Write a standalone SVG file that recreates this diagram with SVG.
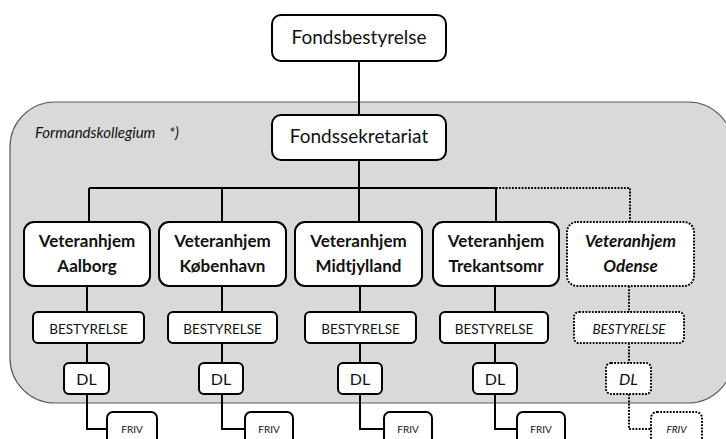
<svg xmlns="http://www.w3.org/2000/svg" width="726" height="439" viewBox="0 0 726 439">
<style>
text{font-family:Lato,"Liberation Sans",sans-serif;fill:#111;text-anchor:middle}
.box{fill:#fff;stroke:#000;stroke-width:2}
.dot{fill:#fff;stroke:#000;stroke-width:2;stroke-dasharray:1.8 1.4}
.ln{fill:none;stroke:#000;stroke-width:2}
.dl{fill:none;stroke:#000;stroke-width:2;stroke-dasharray:1.8 1.4}
.t1{font-size:19px}
.t2{font-size:17px;font-weight:bold}
.t3{font-size:13.5px}
.t4{font-size:16px}
.t5{font-size:10px}
.it{font-style:italic}
</style>
<rect id="formandskollegium" x="10" y="102" width="723" height="301" rx="45" fill="#d9d9d9" stroke="#5a5a5a" stroke-width="1.2"/>
<text x="35" y="138" class="it" style="font-size:15px;text-anchor:start">Formandskollegium<tspan x="169">*)</tspan></text>
<g id="connectors">
<path class="ln" d="M359 61V115M359 160V188M89 188H496M89 188V222M222 188V222M359 188V222M496 188V222"/>
<path class="dl" d="M496 188H630V222"/>
<path class="ln" d="M87 286V312M87 343V363M87 394V429H107"/>
<path class="ln" d="M222 286V312M222 343V363M222 394V429H245"/>
<path class="ln" d="M360 286V312M360 343V363M360 394V429H384"/>
<path class="ln" d="M495 286V312M495 343V363M495 394V429H517"/>
<path class="dl" d="M629 286V312M629 343V363M629 394V429H651"/>
</g>
<g id="fondsbestyrelse"><rect class="box" x="272" y="15" width="174" height="46" rx="9"/><text class="t1" x="359" y="44">Fondsbestyrelse</text></g>
<g id="fondssekretariat"><rect class="box" x="272" y="115" width="174" height="45" rx="9"/><text class="t1" x="359" y="143">Fondssekretariat</text></g>
<g id="vh-aalborg"><rect class="box" x="24" y="222" width="126" height="64" rx="10"/><text class="t2" x="87" y="247">Veteranhjem</text><text class="t2" x="87" y="272">Aalborg</text></g>
<g id="vh-kobenhavn"><rect class="box" x="159" y="222" width="127" height="64" rx="10"/><text class="t2" x="222.5" y="247">Veteranhjem</text><text class="t2" x="222.5" y="272">København</text></g>
<g id="vh-midtjylland"><rect class="box" x="295" y="222" width="127" height="64" rx="10"/><text class="t2" x="358.5" y="247">Veteranhjem</text><text class="t2" x="358.5" y="272">Midtjylland</text></g>
<g id="vh-trekantsomr"><rect class="box" x="433" y="222" width="126" height="64" rx="10"/><text class="t2" x="496" y="247">Veteranhjem</text><text class="t2" x="496" y="272">Trekantsomr</text></g>
<g id="vh-odense"><rect class="dot" x="567" y="222" width="127" height="64" rx="10"/><text class="t2 it" x="630.5" y="247">Veteranhjem</text><text class="t2 it" x="630.5" y="272">Odense</text></g>
<g id="best-1"><rect class="box" x="33" y="312" width="111" height="31" rx="5"/><text class="t3" x="88.5" y="334">BESTYRELSE</text></g>
<g id="best-2"><rect class="box" x="168" y="312" width="109" height="31" rx="5"/><text class="t3" x="222.5" y="334">BESTYRELSE</text></g>
<g id="best-3"><rect class="box" x="305" y="312" width="111" height="31" rx="5"/><text class="t3" x="360.5" y="334">BESTYRELSE</text></g>
<g id="best-4"><rect class="box" x="440" y="312" width="108" height="31" rx="5"/><text class="t3" x="494" y="334">BESTYRELSE</text></g>
<g id="best-5"><rect class="dot" x="574" y="312" width="110" height="31" rx="5"/><text class="t3 it" x="629" y="334">BESTYRELSE</text></g>
<g id="dl-1"><rect class="box" x="64" y="363" width="45" height="31" rx="5"/><text class="t4" x="86.5" y="385">DL</text></g>
<g id="dl-2"><rect class="box" x="199" y="363" width="44" height="31" rx="5"/><text class="t4" x="221" y="385">DL</text></g>
<g id="dl-3"><rect class="box" x="338" y="363" width="44" height="31" rx="5"/><text class="t4" x="360" y="385">DL</text></g>
<g id="dl-4"><rect class="box" x="473" y="363" width="44" height="31" rx="5"/><text class="t4" x="495" y="385">DL</text></g>
<g id="dl-5"><rect class="dot" x="606" y="363" width="45" height="31" rx="5"/><text class="t4 it" x="628.5" y="385">DL</text></g>
<g id="friv-1"><rect class="box" x="107" y="412" width="50" height="40" rx="6"/><text class="t5" x="132" y="433">FRIV</text></g>
<g id="friv-2"><rect class="box" x="245" y="412" width="48" height="40" rx="6"/><text class="t5" x="269" y="433">FRIV</text></g>
<g id="friv-3"><rect class="box" x="384" y="412" width="48" height="40" rx="6"/><text class="t5" x="408" y="433">FRIV</text></g>
<g id="friv-4"><rect class="box" x="517" y="412" width="48" height="40" rx="6"/><text class="t5" x="541" y="433">FRIV</text></g>
<g id="friv-5"><rect class="dot" x="651" y="412" width="51" height="40" rx="6"/><text class="t5 it" x="676.5" y="433">FRIV</text></g>
</svg>
